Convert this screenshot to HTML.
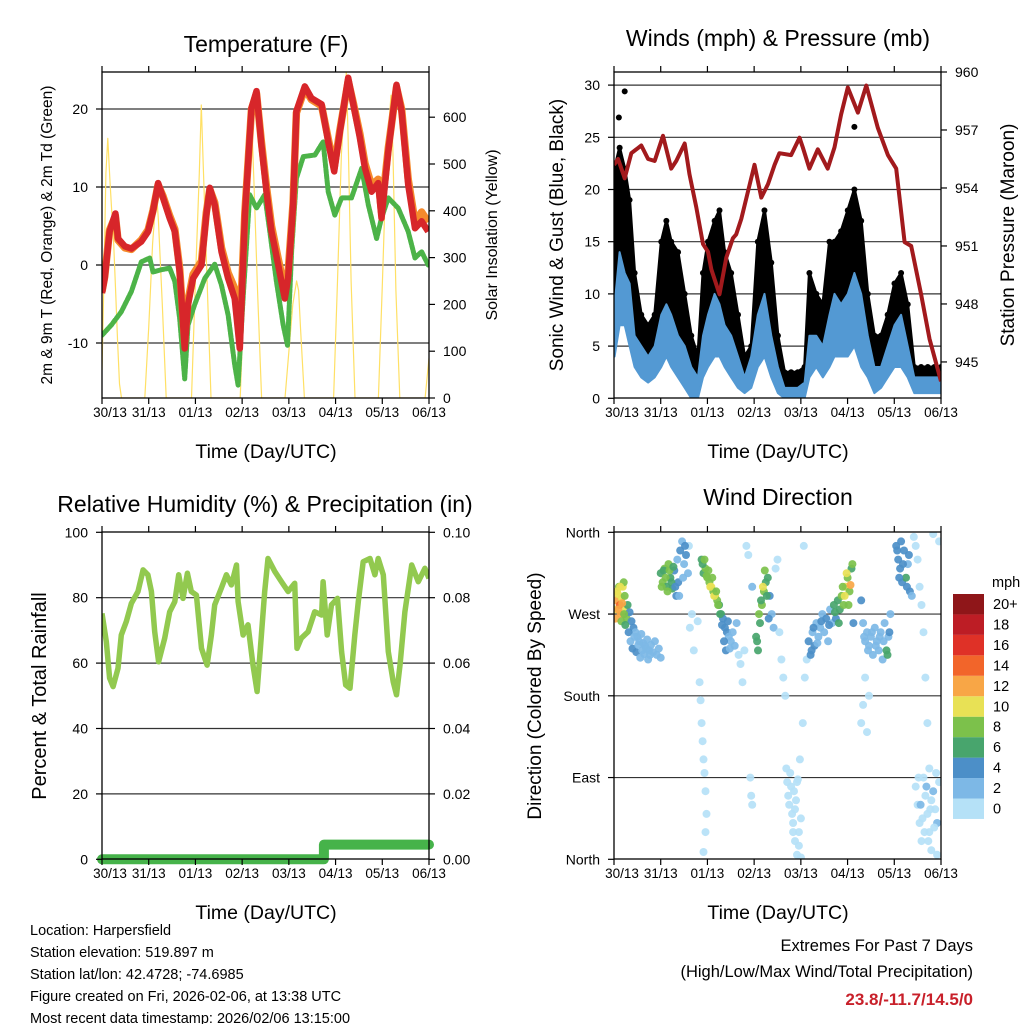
<!DOCTYPE html>
<html><head><meta charset="utf-8"><style>
html,body{margin:0;padding:0;background:#fff;}
svg{display:block;font-family:"Liberation Sans",sans-serif;}
</style></head><body>
<svg id="chart" width="1024" height="1024" viewBox="0 0 1024 1024" style="position:absolute;left:0;top:0">
<g id="grids"></g>
<g id="series"></g>
<g id="frames"></g>
<g id="labels"></g>
</svg>
<script>
// ---------- Temperature panel data ----------
var tempRedHours=[0,1.4,3.9,6.9,8.2,11.7,15.1,20.2,23.7,26.2,28.8,31.4,34.8,37.4,39.9,42.5,44.2,46.8,51.1,53.6,55.4,57.9,61.4,64.8,68.2,70.8,73.4,76.8,79.4,81.9,84.5,87.1,90.5,93.9,95.6,98.2,99.9,104.2,107.6,112.8,116.2,119.3,122.2,126.5,129.1,132.5,135.1,138.5,141.9,143.6,147.1,151.3,153.9,157.3,160.8,164.2,167.6];
var tempRed=[-3.6,-1.7,4.3,6.6,3.4,2.4,2.1,3.0,4.3,6.9,10.5,8.6,6.0,4.3,-0.9,-10.7,-5.1,-1.7,0,6.4,9.9,7.7,1.7,-1.7,-4.3,-10.7,6.4,20.1,22.3,15.4,9.4,4.3,0,-4.3,-1.7,7.7,19.7,22.9,21.4,20.6,15.8,12.0,17.1,24.0,20.6,16.3,12.4,9.4,10.5,6.0,14.6,23.1,19.7,10.3,4.7,5.6,4.3];
var tempOrange=[-3.4,-1.5,4.5,6.3,3.2,2.2,2.0,3.2,4.5,7.0,10.3,8.8,6.3,4.6,-0.5,-10.0,-4.6,-1.2,0.5,6.7,9.7,8.0,2.2,-1.0,-3.0,-8.5,6.8,20.0,22.0,15.8,10.0,5.0,0.8,-3.2,-1.0,8.0,19.5,22.6,21.2,20.4,16.2,12.5,17.3,23.6,20.8,16.8,13.0,10.2,11.0,6.8,15.0,22.8,20.0,11.0,5.5,6.8,5.5];
var tdHours=[0,4.8,9.9,15.1,20.2,24.5,26.2,30.5,34.8,37.4,39.9,42.5,44.2,47.6,52.8,57.9,61.4,64.8,68.2,69.9,72.5,75.9,79.4,83.6,86.2,89.6,93.1,95.3,97.4,99.9,103.4,109.4,113.6,116.2,119.6,123.1,128.2,133.4,136.8,141.1,143.6,147.1,152.2,157.3,160.8,164.2,167.6];
var tdGreen=[-9.0,-7.7,-6.0,-3.4,0.4,0.9,-0.9,-0.6,-0.4,-2.1,-6.9,-14.6,-7.7,-5.1,-1.7,0.1,-2.6,-6.4,-12.8,-15.4,-4.3,9.0,7.3,9.0,4.3,-2.1,-7.7,-10.3,1.7,11.1,13.9,14.1,15.8,9.4,6.4,8.6,8.6,12.4,7.7,3.4,6.0,8.6,7.3,4.3,0.9,1.7,0];
var solarHours=[0,1,2,3,4,5,6,7,8,9,10,22,24,26,28,29,31,33,46,48,50,51,52,54,56,71,73,75,77,78,80,82,94,96,98,100,101,102,104,119,121,123,125.5,126.5,128,130,142,144,146,148.5,149.5,151,153,166,168];
var solarVals=[60,250,480,555,470,400,330,230,120,30,0,0,150,330,440,380,200,0,0,250,480,626,500,250,0,0,220,450,580,470,220,0,0,100,200,250,230,150,0,0,250,520,697,550,250,0,0,240,500,647,520,230,0,0,85];
// ---------- Winds panel data ----------
var windHours=[0.3,2.9,5.5,8.0,10.6,14.0,17.5,20.9,24.3,26.9,29.4,32.9,36.3,39.7,43.1,45.7,48.3,51.7,54.2,56.8,60.2,63.7,67.1,70.5,73.9,77.3,80.8,84.2,87.6,91.0,94.4,97.9,100.4,103.9,107.3,110.7,113.3,116.7,120.1,123.5,127.0,130.4,133.8,137.2,140.6,144.1,147.5,150.9,154.3,157.8,161.2,164.6,168];
var windLo=[4,7,7,5,3,2,1.5,2,3,4,3,2,1,0,0,2,3,4,4,3,2,1,0.5,1,3,4,2,0.5,0,0,0,0,2,3,2,3,4,4,4,5,3,2,0.5,1,2,3,3,2,0.5,0.5,0.5,0.5,0.5];
var windHi=[9,14,12,11,6,5,4,5,8,9,8,6,5,3,2,6,8,10,9,7,6,4,2,4,8,10,6,3,1,1,1,1.5,6,6,5,8,10,9,10,12,10,6,3,3,5,7,8,5,2,2,2,2,2];
var gustLo=[10,12,12,9,5,4,3.5,4,6,8,7,5,3,2,1,5,7,8,7,6,4,3,2,2,6,7,5,2,1,1,1,1,4,5,4,6,8,8,8,10,7,4,2,2,4,6,6,4,1,1,1,1,1];
var gustHi=[22,24,22,19,12,8,7,8,15,17,15,14,10,6,4,12,15,17,18,14,12,8,4,5,15,18,13,6,2.5,2.5,2.5,3,12,10,9,15,15,16,18,20,17,10,6,6,8,11,12,9,3,3,3,3,3];
var gustOutHours=[5.5,2.5,123.5];
var gustOutVals=[29.4,26.9,26.0];
var presHours=[0,2.1,5.5,8.9,14.0,17.5,20.9,25.2,29.4,32.0,36.3,38.8,42.3,45.7,48.3,50.0,54.2,57.7,61.1,62.8,65.4,68.8,72.2,75.7,79.1,82.5,85.0,91.0,95.3,97.0,100.4,104.7,109.8,113.3,116.7,120.1,125.3,129.6,135.6,140.7,145.0,149.3,152.7,157.8,162.1,168];
var presVals=[955.2,955.5,954.5,955.8,956.2,955.5,955.4,956.7,955.0,955.4,956.3,954.7,953.0,951.1,950.7,949.8,948.5,950.4,951.4,951.6,952.4,953.8,955.2,953.5,954.2,955.2,955.8,955.7,956.6,956.1,955.0,956.0,955.0,956.1,957.8,959.2,957.9,959.3,957.1,955.7,955.0,951.2,951.0,948.5,946.2,944.0];
// ---------- RH panel data ----------
var rhHours=[0,2.2,3.9,5.7,8.2,9.9,12.5,15.1,18.5,21.1,23.6,25.4,27.1,29.1,32.2,34.8,37.4,39.4,41.6,43.9,45.9,48.5,51.1,54.0,56.2,57.9,61.3,63.9,66.5,69.1,69.9,72.5,75.0,77.6,79.7,81.9,83.6,85.3,88.8,92.2,95.6,99.0,100.2,102.4,105.9,109.3,112.8,113.6,115.7,117.9,121.0,123.1,125.2,127.4,129.9,131.7,134.2,137.7,140.2,141.9,144.5,147.1,149.6,151.3,153.1,155.6,159.1,162.5,165.9,168];
var rhVals=[75.2,66.6,55.4,52.8,58.4,68.6,72.7,78.3,81.9,88.5,87.0,81.9,69.6,60.4,67.6,75.7,78.8,87.0,79.8,87.5,81.9,80.8,64.5,59.4,68.6,77.8,82.9,87.0,83.9,90.0,78.8,68.6,71.7,59.4,51.3,68.6,81.9,92.0,88.0,84.9,81.9,84.4,64.5,67.6,69.6,75.7,74.7,84.9,68.6,77.8,79.8,63.5,53.3,52.3,68.6,78.8,91.0,92.0,87.0,92.0,87.0,63.5,54.3,50.3,59.4,75.7,90.0,84.9,89.0,85.9];
var precipHours=[0,114,114,168];
var precipVals=[0,0,0.0045,0.0045];
// ---------- Wind direction panel data ----------
var dirHours=[0.5,1,2,2.5,3,3.5,4,4.5,5,5.5,6,6.5,7,8,9,10,11,12,13,14,15,16,17,18,19,20,21,22,23,24,
24,25,26,27,28,29,30,31,32,33,34,35,36,37,38,38.5,39,40,41,43,44,44.5,45,45.5,46,46.5,47,47.5,47,46,
45,46,47,48,49,50,51,52,53,54,55,56,57,58,59,60,61,62,63,64,65,66,67,68,69,70,70.5,71,71,
73,74,75,76,77,78,79,80,81,82,83,84,85,86,87,88,88.5,89,89.5,90,90.5,91,91.5,92,92.5,93,93.5,94,94.5,95,95.5,96,97,98,97.5,99,
100,101,102,103,104,105,106,107,108,109,110,111,112,113,114,115,116,117,118,119,120,121,122,123,
127,128,129,130,131,132,133,134,135,136,137,138,139,140,141,142,127,128,129,130,131,
145,146,147,148,149,150,151,152,153,154,155,156,157,158,159,160,161,155,156,157,158,159,160,161,162,163,164,165,166,167,166,164,167,162,163,
0.8,1.5,2.2,3.2,3.8,4.2,5.2,5.8,7.5,8.5,9.5,10.5,11.5,12.5,13.5,14.5,15.5,16.5,17.5,18.5,
24.5,25.5,26.5,27.5,28.5,29.5,30.5,31.5,32.5,33.5,35.5,36.5,
45.5,46.5,47.5,48.5,49.5,50.5,51.5,52.5,53.5,54.5,55.5,56.5,57.5,58.5,59.5,
73.5,74.5,75.5,76.5,77.5,78.5,79.5,
101.5,102.5,104.5,106.5,110.5,113.5,115.5,117.5,118.5,119.5,120.5,121.5,122.5,
128.5,130.5,132.5,134.5,136.5,138.5,140.5,141.5,
145.5,146.5,147.5,148.5,150.5,151.5,
156.5,157.5,158.5,159.5,160.5,161.5,162.5,164.5,165.5,92,93,94,95,96];
var dirVals=[275,285,292,300,280,270,288,300,305,290,275,265,280,272,262,255,250,245,240,248,238,235,242,230,236,228,240,225,232,222,
315,305,320,300,325,310,298,318,290,305,340,350,325,335,315,345,255,270,230,262,195,175,150,130,110,95,75,50,30,8,
330,315,320,310,305,300,295,290,285,280,270,265,255,250,245,240,250,235,260,225,215,195,230,345,335,90,70,60,300,
245,230,260,280,295,305,310,290,270,255,320,330,250,220,200,180,100,85,70,60,95,80,50,40,75,20,65,5,88,30,110,2,150,200,345,220,
240,225,250,235,260,245,255,270,250,265,240,275,260,280,265,285,275,290,280,300,310,295,320,260,
285,260,240,250,235,245,225,255,240,230,250,220,260,230,245,270,150,170,200,140,180,
345,330,320,305,340,310,325,295,290,355,345,330,300,280,250,200,150,80,60,40,20,90,70,50,30,10,75,55,40,85,5,358,350,100,65,
265,295,275,300,262,282,270,258,250,240,232,245,228,236,222,230,226,232,220,225,
300,318,310,295,318,305,322,300,330,290,310,345,
325,330,312,318,300,310,290,295,280,270,258,240,230,262,232,
240,270,285,300,318,290,265,
230,255,238,262,258,272,260,300,290,315,280,302,325,
245,230,250,235,245,240,225,250,
340,310,350,325,300,335,
90,60,45,30,80,20,55,35,95,30,55,85,15,45];
var dirSpeeds=[10,12,11,9,14,12,10,10,9,8,10,9,7,5,4,4,3,3,3,2,2,3,2,3,2,3,2,3,2,3,
7,8,8,7,8,6,7,5,4,4,4,3,2,4,2,1,1,1,1,1,1,1,1,1,1,1,1,1,1,1,
6,7,8,9,8,10,9,10,8,7,6,5,4,4,3,3,2,2,2,1,1,1,1,1,1,1,1,1,2,
6,7,7,8,9,7,6,4,3,2,1,1,1,1,1,1,1,1,1,1,1,1,1,1,1,1,1,1,1,1,1,1,1,1,1,1,
4,4,3,4,3,2,3,2,3,4,3,2,3,6,5,7,6,8,9,10,9,8,7,4,
4,3,2,3,2,3,2,3,2,3,2,2,3,6,2,2,1,1,1,1,1,
4,5,4,5,4,6,3,4,3,1,1,1,1,1,1,1,1,1,1,1,1,1,1,1,1,1,2,1,2,1,1,1,1,1,1,
12,10,13,11,9,12,8,6,4,3,4,3,4,2,3,3,2,3,2,3,
8,7,9,8,8,7,6,4,3,3,2,4,
7,8,8,9,10,8,10,9,8,6,4,4,4,4,3,
7,8,7,10,8,6,4,
4,4,3,4,4,7,6,9,10,11,8,12,8,
3,3,2,3,2,3,6,4,
5,4,5,4,5,4,
1,2,1,1,2,1,1,1,1,1,1,1,1,1];
var speedColors=["#b5e1f7","#7db8e6","#4c8fc8","#48a56d","#7cc14b","#e8e155","#f8a646","#f2652a","#df3127","#bd1d25","#8f1619"];
var speedLabels=["0","2","4","6","8","10","12","14","16","18","20+"];
var dayLabels=["30/13","31/13","01/13","02/13","03/13","04/13","05/13","06/13"];
var tempTicks=[-10,0,10,20];
var solarTicks=[0,100,200,300,400,500,600];
var windTicks=[0,5,10,15,20,25,30];
var presTicks=[945,948,951,954,957,960];
var rhTicks=[0,20,40,60,80,100];
var precipTickVals=[0,0.02,0.04,0.06,0.08,0.10];
var precipTicks=["0.00","0.02","0.04","0.06","0.08","0.10"];
var dirTickNames=["North","East","South","West","North"];
var dirTickVals=[0,90,180,270,360];

var NS="http://www.w3.org/2000/svg";
function mk(tag,attrs,parent){var e=document.createElementNS(NS,tag);for(var k in attrs)e.setAttribute(k,attrs[k]);(parent||document.getElementById('series')).appendChild(e);return e;}
var P1={x:102,w:327,top:72,bot:398},P2={x:614,w:327,top:72,bot:398},P3={x:102,w:327,top:532,bot:859},P4={x:614,w:327,top:532,bot:859};
function hx(P,h){return P.x+h/168*P.w;}
function yTemp(v){return 265-v*7.8;}
function ySolar(v){return 398-v*0.468;}
function yWind(v){return 398.3-v*10.44;}
function yPres(v){return 72+(960-v)*19.33;}
function yRH(v){return 859.3-v*3.27;}
function yPrecip(v){return 859.3-v*3270;}
function yDir(v){return 859.3-v*0.9083;}
function pathD(P,hs,vs,yf){var d="";for(var i=0;i<hs.length;i++){d+=(i?"L":"M")+hx(P,hs[i]).toFixed(1)+","+yf(vs[i]).toFixed(1);}return d;}
function bandD(P,hs,lo,hi,yf){var d="";for(var i=0;i<hs.length;i++)d+=(i?"L":"M")+hx(P,hs[i]).toFixed(1)+","+yf(hi[i]).toFixed(1);for(var j=hs.length-1;j>=0;j--)d+="L"+hx(P,hs[j]).toFixed(1)+","+yf(lo[j]).toFixed(1);return d+"Z";}
var G=document.getElementById('grids'),F=document.getElementById('frames'),L=document.getElementById('labels');
function txt(x,y,s,size,anchor,parent){var t=mk('text',{x:x,y:y,'font-size':size,'text-anchor':anchor||'middle',fill:'#000'},parent||L);t.textContent=s;return t;}

var defs=mk('defs',{},document.getElementById('chart'));
[P1,P2,P3,P4].forEach(function(P,i){var c=mk('clipPath',{id:'clip'+i},defs);mk('rect',{x:P.x,y:P.top,width:P.w,height:P.bot-P.top},c);});

tempTicks.forEach(function(v){var e=mk('line',{x1:P1.x,x2:P1.x+P1.w,y1:yTemp(v),y2:yTemp(v),stroke:'#333','stroke-width':1.2},G);

});
windTicks.slice(1).forEach(function(v){var e=mk('line',{x1:P2.x,x2:P2.x+P2.w,y1:yWind(v),y2:yWind(v),stroke:'#333','stroke-width':1.2},G);

});
rhTicks.slice(1,5).forEach(function(v){var e=mk('line',{x1:P3.x,x2:P3.x+P3.w,y1:yRH(v),y2:yRH(v),stroke:'#333','stroke-width':1.2},G);

});
[90,180,270].forEach(function(v){var e=mk('line',{x1:P4.x,x2:P4.x+P4.w,y1:yDir(v),y2:yDir(v),stroke:'#333','stroke-width':1.2},G);

});

// Temperature series
var gT=mk('g',{'clip-path':'url(#clip0)'});


var s1=mk('path',{d:pathD(P1,solarHours,solarVals,ySolar),fill:'none',stroke:'#ffe065','stroke-width':1.2,'stroke-linejoin':'round'},gT);


var s2=mk('path',{d:pathD(P1,tdHours,tdGreen,yTemp),fill:'none',stroke:'#4cb348','stroke-width':5,'stroke-linejoin':'round','stroke-linecap':'round','stroke-dasharray':'4 1.5'},gT);


var s3=mk('path',{d:pathD(P1,tempRedHours,tempOrange,yTemp),fill:'none',stroke:'#f58a2c','stroke-width':7.5,'stroke-linejoin':'round'},gT);


var s4=mk('path',{d:pathD(P1,tempRedHours,tempRed,yTemp),fill:'none',stroke:'#d7262a','stroke-width':6.5,'stroke-linejoin':'round'},gT);



// Winds series
var gW=mk('g',{'clip-path':'url(#clip1)'});


var w1b=mk('path',{d:bandD(P2,windHours,gustLo,gustHi,yWind),fill:'#000',stroke:'#000','stroke-width':3,'stroke-linejoin':'round'},gW);


for(var i=0;i<windHours.length;i++){var c=mk('circle',{cx:hx(P2,windHours[i]),cy:yWind(gustHi[i]),r:3,fill:'#000'},gW);

}
for(var i=0;i<gustOutHours.length;i++){var c=mk('circle',{cx:hx(P2,gustOutHours[i]),cy:yWind(gustOutVals[i]),r:3,fill:'#000'},gW);

}
var w2=mk('path',{d:bandD(P2,windHours,windLo,windHi,yWind),fill:'#5399d3',stroke:'#5399d3','stroke-width':2,'stroke-linejoin':'round'},gW);


var w3=mk('path',{d:pathD(P2,presHours,presVals,yPres),fill:'none',stroke:'#a21a1d','stroke-width':4,'stroke-linejoin':'round'},gW);



// RH series
var gR=mk('g',{'clip-path':'url(#clip2)'});


var r1=mk('path',{d:pathD(P3,rhHours,rhVals,yRH),fill:'none',stroke:'#92c94f','stroke-width':5.5,'stroke-linejoin':'round'},gR);


var r2=mk('path',{d:pathD(P3,precipHours,precipVals,yPrecip),fill:'none',stroke:'#46b34a','stroke-width':10,'stroke-linejoin':'round','stroke-linecap':'round'});



// Wind direction scatter
var gD=mk('g',{'clip-path':'url(#clip3)'});


for(var i=0;i<dirHours.length;i++){var idx=Math.min(10,Math.floor(dirSpeeds[i]/2));
var c=mk('circle',{cx:hx(P4,dirHours[i]).toFixed(1),cy:yDir(dirVals[i]).toFixed(1),r:4,fill:speedColors[idx],'fill-opacity':0.92},gD);

}

// Frames & ticks
[P1,P2,P3,P4].forEach(function(P,pi){
  var r=mk('rect',{x:P.x,y:P.top,width:P.w,height:P.bot-P.top,fill:'none',stroke:'#000','stroke-width':1.3},F);
  
  
  for(var k=0;k<8;k++){var x=P.x+k*P.w/7;
    mk('line',{x1:x,x2:x,y1:P.bot,y2:P.bot+6,stroke:'#000','stroke-width':1.2},F);
    mk('line',{x1:x,x2:x,y1:P.top,y2:P.top-6,stroke:'#000','stroke-width':1.2},F);
    var t=txt(x+(k==0?8:0),P.bot+19,dayLabels[k],13.5,'middle');
    
    }
});
function yTicks(P,vals,labs,yf,side,nm){vals.forEach(function(v,i){var y=yf(v),t;
  if(side=='L'){mk('line',{x1:P.x-6,x2:P.x,y1:y,y2:y,stroke:'#000','stroke-width':1.2},F);t=txt(P.x-14,y+5,labs[i],14,'end');}
  else{mk('line',{x1:P.x+P.w,x2:P.x+P.w+6,y1:y,y2:y,stroke:'#000','stroke-width':1.2},F);t=txt(P.x+P.w+14,y+5,labs[i],14,'start');}
  
  });}
yTicks(P1,tempTicks,tempTicks,yTemp,'L','temp-tick-label');
yTicks(P1,solarTicks,solarTicks,ySolar,'R','solar-tick-label');
yTicks(P2,windTicks,windTicks,yWind,'L','wind-tick-label');
yTicks(P2,presTicks,presTicks,yPres,'R','pressure-tick-label');
yTicks(P3,rhTicks,rhTicks,yRH,'L','rh-tick-label');
yTicks(P3,precipTickVals,precipTicks,yPrecip,'R','precip-tick-label');
yTicks(P4,dirTickVals,dirTickNames,yDir,'L','direction-tick-label');

for(var i=0;i<11;i++){var y0=594+(10-i)*20.45;
  var b=mk('rect',{x:953,y:y0,width:31,height:20.45,fill:speedColors[i]},L);
  
  
  var t=txt(993,y0+15,speedLabels[i],14.5,'start');
  
  }
</script>
<svg width="1024" height="1024" style="position:absolute;left:0;top:0" font-family="Liberation Sans, sans-serif">
<text x="266" y="52" font-size="23" text-anchor="middle">Temperature (F)</text>
<text x="778" y="46" font-size="23" text-anchor="middle">Winds (mph) &amp; Pressure (mb)</text>
<text x="265" y="512" font-size="23" text-anchor="middle">Relative Humidity (%) &amp; Precipitation (in)</text>
<text x="778" y="505" font-size="23" text-anchor="middle">Wind Direction</text>
<text x="266" y="458" font-size="19.5" text-anchor="middle">Time (Day/UTC)</text>
<text x="778" y="458" font-size="19.5" text-anchor="middle">Time (Day/UTC)</text>
<text x="266" y="919" font-size="19.5" text-anchor="middle">Time (Day/UTC)</text>
<text x="778" y="919" font-size="19.5" text-anchor="middle">Time (Day/UTC)</text>
<text transform="translate(52,235) rotate(-90)" font-size="15.5" text-anchor="middle">2m &amp; 9m T (Red, Orange) &amp; 2m Td (Green)</text>
<text transform="translate(497,235) rotate(-90)" font-size="16" text-anchor="middle">Solar Insolation (Yellow)</text>
<text transform="translate(563,235) rotate(-90)" font-size="19" text-anchor="middle">Sonic Wind &amp; Gust (Blue, Black)</text>
<text transform="translate(1014,235) rotate(-90)" font-size="19" text-anchor="middle">Station Pressure (Maroon)</text>
<text transform="translate(46,696) rotate(-90)" font-size="20" text-anchor="middle">Percent &amp; Total Rainfall</text>
<text transform="translate(541,696) rotate(-90)" font-size="19" text-anchor="middle">Direction (Colored By Speed)</text>
<text x="992" y="587" font-size="14.5" text-anchor="start">mph</text>
<g font-size="14.5">
<text x="30" y="935">Location: Harpersfield</text>
<text x="30" y="957">Station elevation: 519.897 m</text>
<text x="30" y="979">Station lat/lon: 42.4728; -74.6985</text>
<text x="30" y="1001">Figure created on Fri, 2026-02-06, at 13:38 UTC</text>
<text x="30" y="1023">Most recent data timestamp: 2026/02/06 13:15:00</text>
</g>
<text x="973" y="951" font-size="16.5" text-anchor="end">Extremes For Past 7 Days</text>
<text x="973" y="977" font-size="16.5" text-anchor="end">(High/Low/Max Wind/Total Precipitation)</text>
<text x="973" y="1005" font-size="17" font-weight="bold" fill="#c8202a" text-anchor="end">23.8/-11.7/14.5/0</text>
</svg>
</body></html>
